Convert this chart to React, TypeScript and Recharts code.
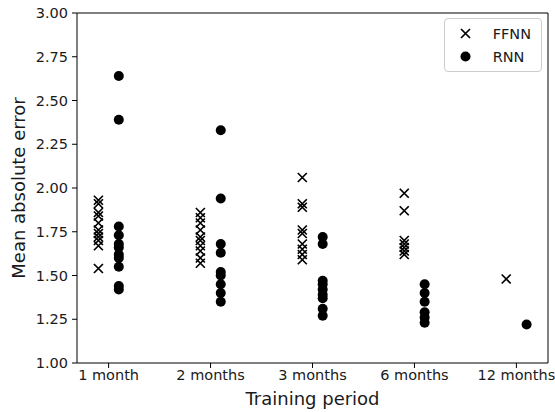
import { ScatterChart, Scatter, XAxis, YAxis, ReferenceLine } from 'recharts';

const periods = ['1 month', '2 months', '3 months', '6 months', '12 months'];

// mean absolute error per training period
const ffnnErrors = [
    [1.93, 1.91, 1.86, 1.84, 1.80, 1.76, 1.74, 1.72, 1.70, 1.67, 1.54],
    [1.86, 1.83, 1.80, 1.76, 1.72, 1.70, 1.67, 1.64, 1.60, 1.57],
    [2.06, 1.91, 1.89, 1.76, 1.74, 1.68, 1.65, 1.62, 1.59],
    [1.97, 1.87, 1.70, 1.68, 1.66, 1.64, 1.62],
    [1.48],
];
const rnnErrors = [
    [2.64, 2.39, 1.78, 1.73, 1.68, 1.66, 1.62, 1.60, 1.55, 1.44, 1.42],
    [2.33, 1.94, 1.68, 1.63, 1.52, 1.50, 1.45, 1.40, 1.35],
    [1.72, 1.68, 1.47, 1.45, 1.42, 1.39, 1.37, 1.31, 1.27],
    [1.45, 1.40, 1.35, 1.29, 1.26, 1.23],
    [1.22],
];
const ffnnShift = -0.1;
const rnnShift = 0.1;
const yTicks = [1.0, 1.25, 1.5, 1.75, 2.0, 2.25, 2.5, 2.75, 3.0];

const toPoints = (groups: number[][], shift: number) =>
    groups.flatMap((vals, i) => vals.map(v => ({ x: i + shift, y: v })));

const ffnnData = toPoints(ffnnErrors, ffnnShift);
const rnnData = toPoints(rnnErrors, rnnShift);

const FONT = 'DejaVu Sans, sans-serif';
const TEXT = '#1a1a1a';

const XMark = (props: any) => {
    const { cx, cy } = props;
    const s = 4.5;
    return (
        <path
            d={`M${cx - s},${cy - s}L${cx + s},${cy + s}M${cx - s},${cy + s}L${cx + s},${cy - s}`}
            stroke="#000"
            strokeWidth={1.7}
            fill="none"
        />
    );
};

const Dot = (props: any) => <circle cx={props.cx} cy={props.cy} r={5} fill="#000" />;

function LegendBox() {
    const rows = [
        { name: 'FFNN', icon: <path d="M3,3L12,12M3,12L12,3" stroke="#000" strokeWidth={1.7} /> },
        { name: 'RNN', icon: <circle cx={7.5} cy={7.5} r={5} fill="#000" /> },
    ];
    return (
        <div style={{
            position: 'absolute', top: 18, right: 13,
            border: '1px solid #cccccc', borderRadius: 4, background: 'rgba(255,255,255,0.8)',
            padding: '3px 10px 3px 13px', fontFamily: FONT, fontSize: 14.5, color: TEXT,
        }}>
            {rows.map(r => (
                <div key={r.name} style={{ display: 'flex', alignItems: 'center', height: 23 }}>
                    <svg width={15} height={15} style={{ marginRight: 20 }}>{r.icon}</svg>
                    <span>{r.name}</span>
                </div>
            ))}
        </div>
    );
}

export default function App() {
    return (
        <div style={{ position: 'absolute', left: 0, top: 0, width: 555, height: 412, background: '#fff' }}>
            <ScatterChart width={555} height={412} margin={{ top: 13, right: 7, bottom: 0, left: 0 }}>
                <XAxis
                    type="number"
                    dataKey="x"
                    domain={[-0.31, 4.31]}
                    ticks={[0, 1, 2, 3, 4]}
                    tickFormatter={(v: number) => periods[v]}
                    allowDataOverflow
                    height={49}
                    axisLine={{ stroke: '#000' }}
                    tickLine={{ stroke: '#000' }}
                    tickSize={5}
                    tickMargin={2}
                    tick={{ fill: TEXT, fontSize: 14.5, fontFamily: FONT }}
                    label={{
                        content: (p: any) => {
                            const { x, y, width } = p.viewBox;
                            return (
                                <text x={x + width / 2} y={y + 42} textAnchor="middle"
                                    fill={TEXT} fontSize={18} fontFamily={FONT}>Training period</text>
                            );
                        },
                    }}
                />
                <YAxis
                    type="number"
                    dataKey="y"
                    domain={[1, 3]}
                    ticks={yTicks}
                    tickFormatter={(v: number) => v.toFixed(2)}
                    allowDataOverflow
                    width={77}
                    axisLine={{ stroke: '#000' }}
                    tickLine={{ stroke: '#000' }}
                    tickSize={5}
                    tickMargin={4}
                    tick={{ fill: TEXT, fontSize: 14.5, fontFamily: FONT }}
                    label={{
                        content: (p: any) => {
                            const { y, height } = p.viewBox;
                            const cx = 18;
                            const cy = y + height / 2;
                            return (
                                <text x={cx} y={cy} transform={`rotate(-90 ${cx} ${cy})`} textAnchor="middle"
                                    dominantBaseline="central" fill={TEXT} fontSize={18} fontFamily={FONT}>
                                    Mean absolute error
                                </text>
                            );
                        },
                    }}
                />
                <ReferenceLine y={3} stroke="#000" strokeWidth={1} />
                <ReferenceLine x={4.31} stroke="#000" strokeWidth={1} />
                <Scatter name="FFNN" data={ffnnData} shape={XMark} isAnimationActive={false} />
                <Scatter name="RNN" data={rnnData} shape={Dot} isAnimationActive={false} />
            </ScatterChart>
            <LegendBox />
        </div>
    );
}
